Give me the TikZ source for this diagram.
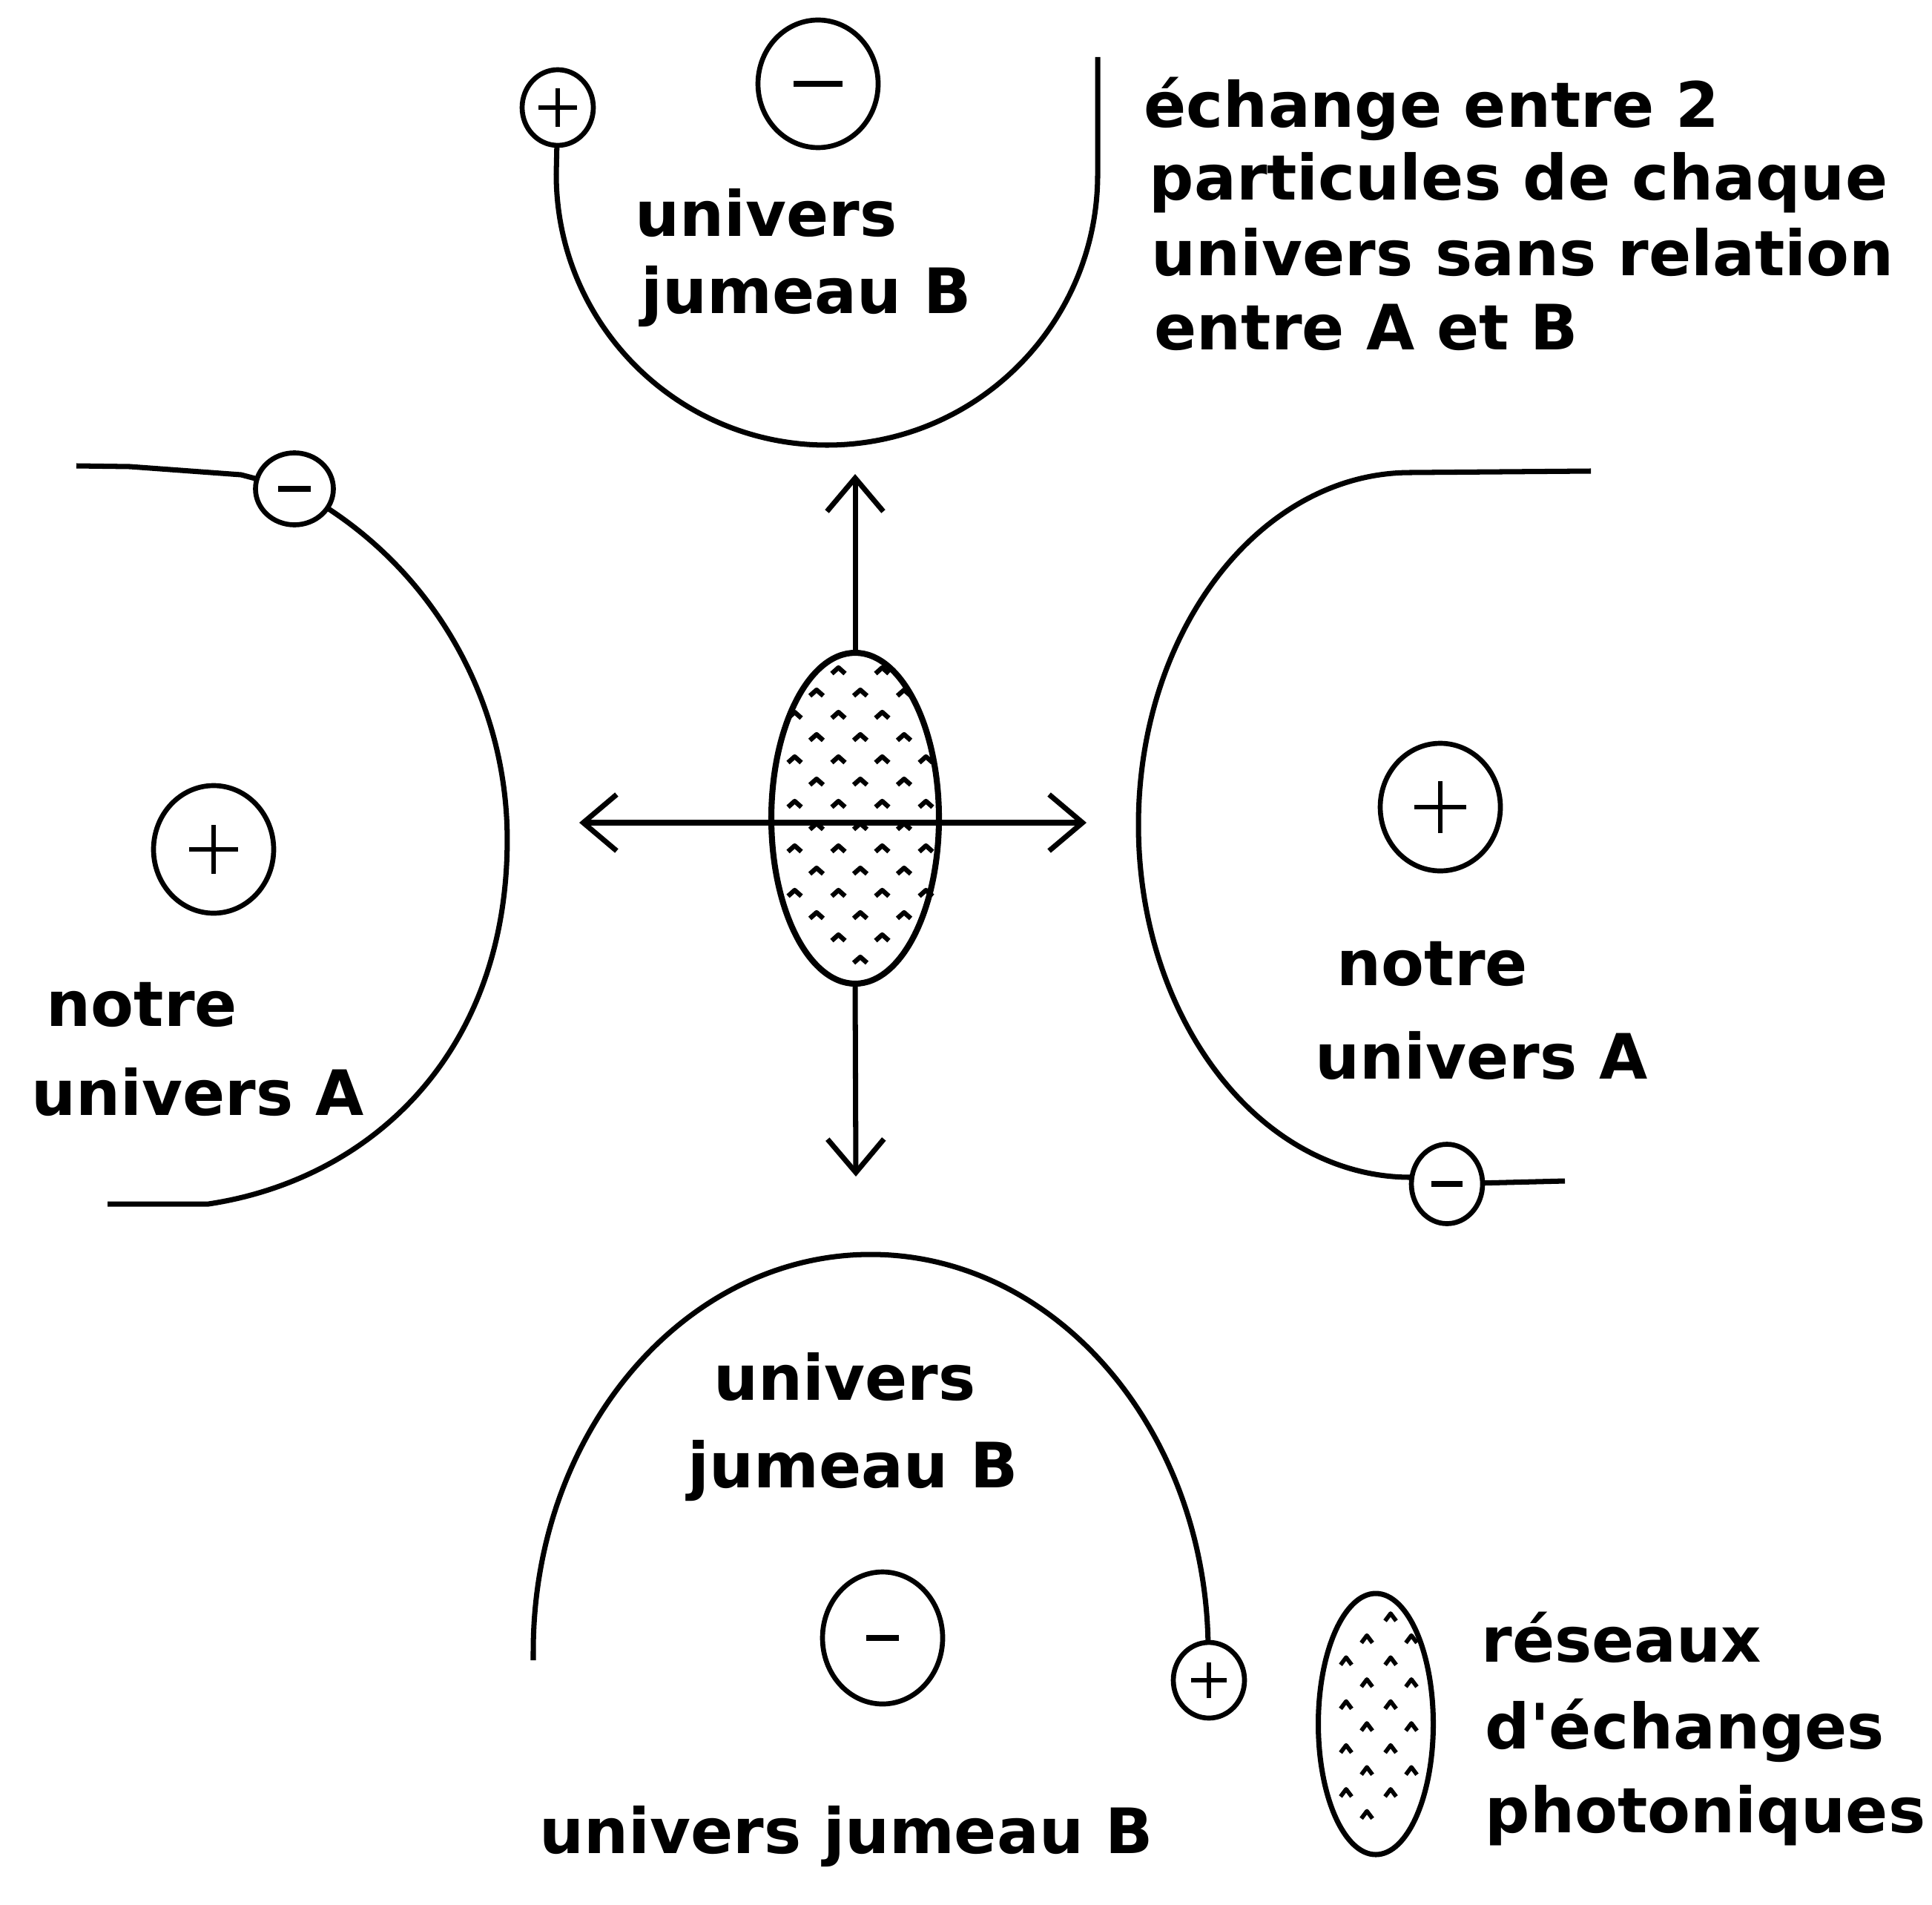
\documentclass[tikz,border=0pt]{standalone}
\usepackage{fontspec}
\setmainfont{DejaVu Sans}
\usetikzlibrary{arrows.meta,shapes.geometric}

\tikzset{
  univ/.style={line width=2pt},
  part/.style={ellipse,draw,line width=1.9pt,fill=white,inner sep=0pt,outer sep=0pt},
  bigpart/.style={part,minimum width=1.62cm,minimum height=1.72cm},
  smallpart/.style={part,minimum width=0.96cm,minimum height=1.02cm},
  sign/.style={line width=1.7pt},
  reseau/.style={ellipse,draw,line width=2.3pt,inner sep=0pt,outer sep=0pt},
  chev/.style={line width=1.8pt,line join=round},
  fleche/.style={line width=2pt,>={Straight Barb[length=4.5mm,width=7.6mm]}},
  lbl/.style={inner sep=0pt,anchor=base west,font=\bfseries\fontsize{24}{28}\selectfont}
}

\begin{document}
\begin{tikzpicture}
\useasboundingbox (0,0) rectangle (26.05,-25.67);

% places des particules
\coordinate (cpT) at (7.52,-1.45);
\coordinate (cmT) at (11.03,-1.13);
\coordinate (cmL) at (3.97,-6.59);
\coordinate (cpL) at (2.88,-11.45);
\coordinate (cpR) at (19.42,-10.88);
\coordinate (cmR) at (19.51,-15.96);
\coordinate (cmB) at (11.90,-22.08);
\coordinate (cpB) at (16.30,-22.65);

% bords des univers
\draw[univ] (cpT) -- (7.50,-2.35) arc[start angle=180,end angle=360,radius=3.65] -- (14.80,-0.77);
\draw[univ] (1.03,-6.28) -- (1.75,-6.29) -- (3.25,-6.40) -- (cmL) arc[start angle=62.5,end angle=0,radius=5.33]
  .. controls (6.84,-14.20) and (5.00,-15.90) .. (2.81,-16.23) -- (1.45,-16.23);
\draw[univ] (21.45,-6.35) -- (19.02,-6.37) arc[start angle=90,end angle=270,x radius=3.67,y radius=4.75]
  -- (cmR) -- (21.10,-15.92);
\draw[univ] (7.19,-22.38) -- (7.19,-22.26) arc[start angle=180,end angle=0,x radius=4.55,y radius=5.35] -- (cpB);

% particules
\node[smallpart] (pT) at (cpT) {};
\node[bigpart] (mT) at (cmT) {};
\node[smallpart,minimum width=1.05cm,minimum height=0.97cm] (mL) at (cmL) {};
\node[bigpart] (pL) at (cpL) {};
\node[bigpart] (pR) at (cpR) {};
\node[smallpart,minimum height=1.07cm] (mR) at (cmR) {};
\node[bigpart,minimum height=1.78cm] (mB) at (cmB) {};
\node[smallpart] (pB) at (cpB) {};

\foreach \n/\s in {pT/0.26,pL/0.33,pR/0.35,pB/0.24}{
  \draw[sign] ([xshift=-\s cm]\n.center) -- ([xshift=\s cm]\n.center)
              ([yshift=-\s cm]\n.center) -- ([yshift=\s cm]\n.center);}
\foreach \n/\s in {mT/0.33,mL/0.22,mB/0.22,mR/0.21}{
  \draw[sign,line width=2.1pt] ([xshift=-\s cm]\n.center) -- ([xshift=\s cm]\n.center);}

% reseau central
\node[reseau,minimum width=2.26cm,minimum height=4.46cm] (res) at (11.53,-11.03) {};
\foreach \j/\ks in {7/{-1,1},6/{-2,0,2},5/{-3,-1,1},4/{-2,0,2},3/{-3,-1,1,3},2/{-2,0,2},
                    1/{-3,-1,1,3},0/{-2,0,2},-1/{-3,-1,1,3},-2/{-2,0,2},-3/{-3,-1,1,3},
                    -4/{-2,0,2},-5/{-1,1},-6/{0}}{
  \foreach \k in \ks{
    \draw[chev] ({11.60+0.295*(\k)},{-11.14+0.30*(\j)}) ++(-0.09,-0.04) -- ++(0.09,0.08) -- ++(0.09,-0.08);}}

\coordinate (tipN) at (11.53,-6.39);
\coordinate (tipS) at (11.54,-15.86);
\coordinate (tipW) at (7.81,-11.09);
\coordinate (tipE) at (14.65,-11.09);
\draw[fleche,->] (res.north) -- (tipN);
\draw[fleche,->] (res.south) -- (tipS);
\draw[fleche,<->] (tipW) -- (tipE);

% legende
\node[reseau,line width=2pt,minimum width=1.55cm,minimum height=3.52cm] (leg) at (18.55,-23.24) {};
\foreach \i/\xs in {0/{18.75},1/{18.43,19.03},2/{18.15,18.75},3/{18.43,19.03},4/{18.15,18.75},
                    5/{18.43,19.03},6/{18.15,18.75},7/{18.43,19.03},8/{18.15,18.75},9/{18.43}}{
  \foreach \x in \xs{
    \draw[chev,line width=1.6pt] (\x,{-21.80-0.296*(\i)}) ++(-0.075,-0.05) -- ++(0.075,0.1) -- ++(0.075,-0.1);}}

% textes
\node[lbl] (t1) at (15.42,-1.72) {échange entre 2};
\node[lbl] (t2) at (15.49,-2.70) {particules de chaque};
\node[lbl] (t3) at (15.52,-3.72) {univers sans relation};
\node[lbl] (t4) at (15.56,-4.72) {entre A et B};

\node[lbl] (bT1) at (8.56,-3.19) {univers};
\node[lbl] (bT2) at (8.64,-4.23) {jumeau B};

\node[lbl] (aL1) at (0.62,-13.83) {notre};
\node[lbl] (aL2) at (0.42,-15.03) {univers A};

\node[lbl] (aR1) at (18.02,-13.28) {notre};
\node[lbl] (aR2) at (17.73,-14.54) {univers A};

\node[lbl] (bB1) at (9.62,-18.87) {univers};
\node[lbl] (bB2) at (9.27,-20.05) {jumeau B};
\node[lbl] (bB3) at (7.27,-24.98) {univers jumeau B};

\node[lbl] (l1) at (19.97,-22.40) {réseaux};
\node[lbl] (l2) at (20.02,-23.57) {d\textquotesingle échanges};
\node[lbl] (l3) at (20.02,-24.70) {photoniques};
\end{tikzpicture}
\end{document}
